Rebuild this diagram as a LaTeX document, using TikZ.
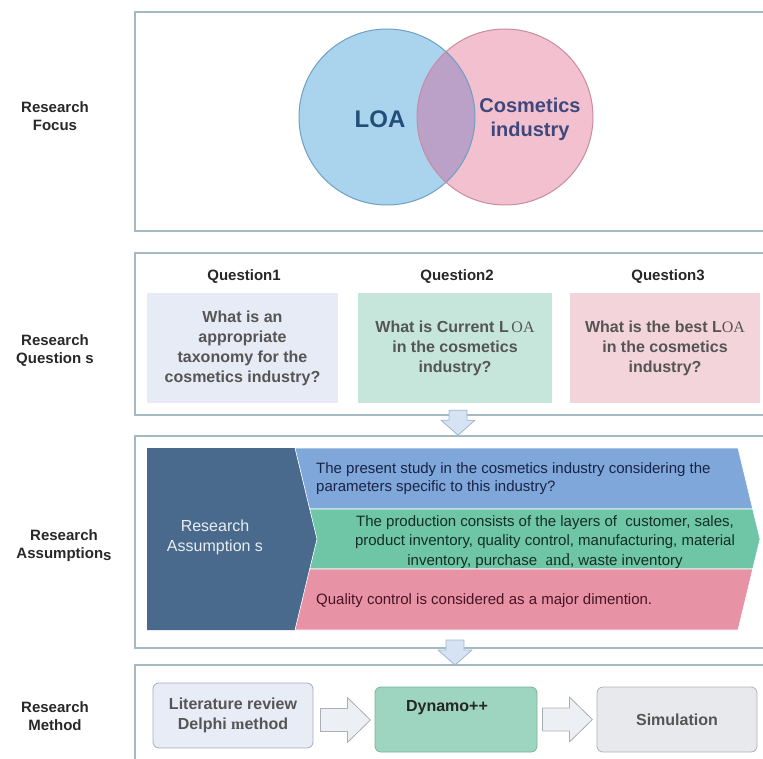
\documentclass[tikz,border=0pt]{standalone}
\usepackage{fontspec}
\setmainfont{Liberation Sans}
\newfontfamily\serifface{Liberation Serif}
\usetikzlibrary{calc}

\definecolor{panelline}{RGB}{165,185,195}
\definecolor{loafill}{RGB}{170,212,238}
\definecolor{loaline}{RGB}{110,160,195}
\definecolor{cosfill}{RGB}{243,192,207}
\definecolor{cosline}{RGB}{200,140,160}
\definecolor{mixfill}{RGB}{187,160,200}
\definecolor{loatext}{RGB}{35,78,120}
\definecolor{costext}{RGB}{62,72,125}
\definecolor{q1fill}{RGB}{231,235,246}
\definecolor{q2fill}{RGB}{198,230,219}
\definecolor{q3fill}{RGB}{243,212,219}
\definecolor{qtext}{RGB}{85,85,85}
\definecolor{labeltext}{RGB}{40,40,40}
\definecolor{arrowfill}{RGB}{214,227,242}
\definecolor{arrowline}{RGB}{160,182,208}
\definecolor{assumdark}{RGB}{73,106,140}
\definecolor{bandblue}{RGB}{127,167,218}
\definecolor{bandgreen}{RGB}{110,198,166}
\definecolor{bandpink}{RGB}{232,146,166}
\definecolor{bluetext}{RGB}{25,35,70}
\definecolor{greentext}{RGB}{20,45,40}
\definecolor{pinktext}{RGB}{70,20,35}
\definecolor{litfill}{RGB}{232,236,246}
\definecolor{litline}{RGB}{165,172,188}
\definecolor{dynfill}{RGB}{158,213,192}
\definecolor{dynline}{RGB}{120,180,155}
\definecolor{simfill}{RGB}{232,233,236}
\definecolor{simline}{RGB}{175,178,185}
\definecolor{flowfill}{RGB}{236,239,243}
\definecolor{flowline}{RGB}{170,175,182}

\tikzstyle{panel} = [draw=panelline, line width=1.5pt]
\tikzstyle{rowlabel} = [align=center, text=labeltext, font=\bfseries\fontsize{15}{18}\selectfont]
\tikzstyle{qtitle} = [text=black!85, font=\bfseries\fontsize{15}{18}\selectfont]
\tikzstyle{qbox} = [minimum height=110pt, align=center, text=qtext, font=\bfseries\fontsize{16}{20}\selectfont]
\tikzstyle{band} = [align=left, inner sep=0pt, font=\fontsize{15}{18}\selectfont]
\tikzstyle{flowbox} = [draw, rounded corners=6pt, line width=0.8pt, minimum width=160pt, minimum height=65pt, align=center, font=\bfseries\fontsize{16}{20}\selectfont]
\tikzstyle{downarrow} = [draw=arrowline, fill=arrowfill, line width=0.8pt, line join=round]
\tikzstyle{flowarrow} = [draw=flowline, fill=flowfill, line width=0.8pt, line join=round]

\begin{document}
\begin{tikzpicture}[x=1pt,y=-1pt]
\useasboundingbox (0,0) rectangle (763,759);
% frames
\draw[panel] (135,12) rectangle (775,231);
\draw[panel] (135,253) rectangle (775,415);
\draw[panel] (135,436) rectangle (775,648);
\draw[panel] (135,665) rectangle (775,775);

% focus
\node[rowlabel] (lf) at (55,116) {Research\\Focus};
\fill[loafill] (387,117) circle[radius=88pt];
\fill[cosfill] (505,117) circle[radius=88pt];
\begin{scope}
  \clip (387,117) circle[radius=88pt];
  \fill[mixfill] (505,117) circle[radius=88pt];
\end{scope}
\draw[loaline, line width=1pt] (387,117) circle[radius=88pt];
\draw[cosline, line width=1pt] (505,117) circle[radius=88pt];
\node[text=loatext, font=\bfseries\fontsize{24}{28}\selectfont] (loa) at (380,119) {LOA};
\node[text=costext, align=center, font=\bfseries\fontsize{20}{24}\selectfont] (cos) at (530,119) {Cosmetics\\industry};

% questions
\node[rowlabel] (lq) at (55,351) {Research\\Question s};
\node[qtitle] (t1) at (244,277) {Question1};
\node[qtitle] (t2) at (457,277) {Question2};
\node[qtitle] (t3) at (668,277) {Question3};
\node[qbox, fill=q1fill, minimum width=191pt] (q1) at (242.5,348) {What is an\\appropriate\\taxonomy for the\\cosmetics industry?};
\node[qbox, fill=q2fill, minimum width=194pt] (q2) at (455,348) {What is Current L\,{\serifface\mdseries OA}\\in the cosmetics\\industry?};
\node[qbox, fill=q3fill, minimum width=190pt] (q3) at (665,348) {What is the best L{\serifface\mdseries OA}\\in the cosmetics\\industry?};
\coordinate (d1) at ($(q2.south)+(3,7)$);
\filldraw[downarrow] (d1) ++(-9,0) -- ++(18,0) -- ++(0,10) -- ++(8,0) -- ++(-17,15) -- ++(-17,-15) -- ++(8,0) -- cycle;

% assumptions
\node[rowlabel] (la) at (64,546) {Research\\Assumption\raisebox{-2pt}{s}};
\fill[assumdark] (147,448) -- (295,448) -- (317,539) -- (295,630) -- (147,630) -- cycle;
\filldraw[bandblue, draw=white, line width=0.6pt] (295,448) -- (738,448) -- (752.7,509) -- (309.7,509) -- cycle;
\filldraw[bandgreen, draw=white, line width=0.6pt] (309.7,509) -- (752.7,509) -- (760,539) -- (752.7,569) -- (309.7,569) -- (317,539) -- cycle;
\filldraw[bandpink, draw=white, line width=0.6pt] (309.7,569) -- (752.7,569) -- (738,630) -- (295,630) -- cycle;
\node[align=center, text=white!88!assumdark, font=\fontsize{16}{20}\selectfont] (ra) at (215,537) {Research\\Assumption s};
\node[band, anchor=west, text=bluetext] (b1) at (316,479) {The present study in the cosmetics industry considering the\\parameters specific to this industry?};
\node[band, align=center, text=greentext, font=\fontsize{15}{19.5}\selectfont] (b2) at (545,542) {The production consists of the layers of\ \ customer, sales,\\product inventory, quality control, manufacturing, material\\inventory, purchase\ \ {\serifface\fontsize{17}{19}\selectfont and}, waste inventory};
\node[band, anchor=west, text=pinktext] (b3) at (316,601) {Quality control is considered as a major dimention.};
\coordinate (d2) at (455,640);
\filldraw[downarrow] (d2) ++(-9,0) -- ++(18,0) -- ++(0,10) -- ++(8,0) -- ++(-17,15) -- ++(-17,-15) -- ++(8,0) -- cycle;

% method
\node[rowlabel] (lm) at (55,716) {Research\\Method};
\node[flowbox, draw=litline, fill=litfill, text=qtext] (lit) at (233,715.5) {Literature review\\Delphi {\serifface m}ethod};
\node[flowbox, draw=dynline, fill=dynfill, minimum width=162pt] (dyn) at (456,719.5) {};
\node[text=black!85, font=\bfseries\fontsize{16}{20}\selectfont] (dynlabel) at (447,708) {Dynamo++};
\node[flowbox, draw=simline, fill=simfill, text=qtext] (sim) at (677,719.5) {Simulation};
\coordinate (f1) at ($(lit.east)+(7,4.5)$);
\coordinate (f2) at ($(dyn.east)+(5,0)$);
\filldraw[flowarrow] (f1) ++(0,-11.5) -- ++(27,0) -- ++(0,-11) -- ++(23,22.5) -- ++(-23,22.5) -- ++(0,-11) -- ++(-27,0) -- cycle;
\filldraw[flowarrow] (f2) ++(0,-11.5) -- ++(27,0) -- ++(0,-11) -- ++(23,22.5) -- ++(-23,22.5) -- ++(0,-11) -- ++(-27,0) -- cycle;
\end{tikzpicture}
\end{document}
